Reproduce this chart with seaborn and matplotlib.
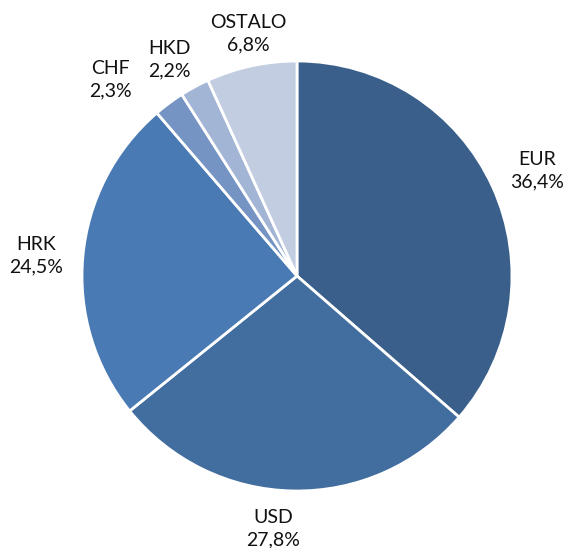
import matplotlib
matplotlib.use("Agg")
import matplotlib.pyplot as plt
import seaborn as sns
import numpy as np

categories = ["EUR", "USD", "HRK", "CHF", "HKD", "OSTALO"]
shares = [36.4, 27.8, 24.5, 2.3, 2.2, 6.8]
colors = ["#3A5F8B", "#426D9F", "#4A7AB4", "#7594C4", "#A3B5D5", "#C2CDE2"]

sns.set_theme(style="white")
plt.rcParams['font.family'] = ['Lato', 'DejaVu Sans']

W, H = 566, 548
fig = plt.figure(figsize=(W / 100, H / 100), dpi=100)
cx, cy, r = 297, 276, 215
ax = fig.add_axes([(cx - r) / W, 1 - (cy + r) / H, 2 * r / W, 2 * r / H])

wedges, _ = ax.pie(shares, colors=colors, startangle=90, counterclock=False,
                   wedgeprops=dict(edgecolor="white", linewidth=2),
                   radius=1.0)
ax.set_xlim(-1, 1)
ax.set_ylim(-1, 1)
ax.set_aspect("equal")

# label placement styling (radial distance, angular nudge in degrees)
label_dist = [1.220, 1.182, 1.218, 1.260, 1.168, 1.148]
label_turn = [-0.7, -4.3, 0.8, 7.1, 2.2, -0.8]
for w, cat, val, d, t in zip(wedges, categories, shares, label_dist, label_turn):
    ang = np.deg2rad((w.theta1 + w.theta2) / 2 + t)
    x, y = d * np.cos(ang), d * np.sin(ang)
    ax.text(x, y, f"{cat}\n{val:.1f}%".replace(".", ","), ha="center", va="center",
            fontsize=14, color="#111111", linespacing=1.38, clip_on=False)

fig.savefig("out.png", dpi=100, facecolor="white")
